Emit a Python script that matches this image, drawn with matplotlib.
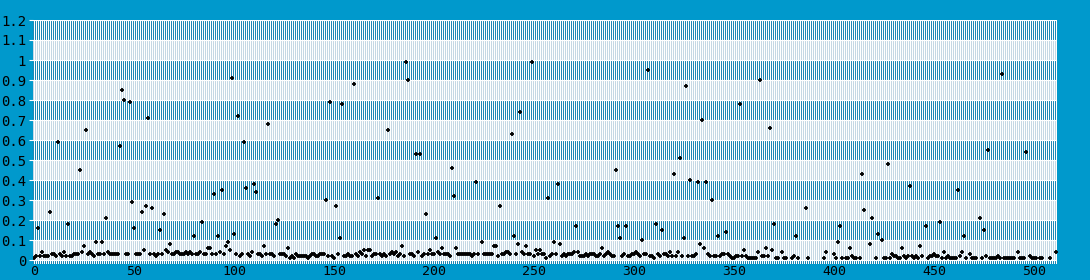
import numpy as np
import matplotlib.pyplot as plt
from matplotlib.ticker import FuncFormatter

nan = np.nan

# one value per sample (nan = no point drawn)
values = [
    0.01, 0.02, 0.16, 0.02, 0.04, 0.02, 0.02, 0.02, 0.24, 0.03, 0.03, 0.02, 0.59, 0.03, 0.02, 0.04,
    0.02, 0.18, 0.02, 0.02, 0.03, 0.03, 0.03, 0.45, 0.04, 0.07, 0.65, 0.03, 0.04, 0.03, 0.02, 0.09,
    0.03, 0.03, 0.09, 0.03, 0.21, 0.04, 0.03, 0.03, 0.03, 0.03, 0.03, 0.57, 0.85, 0.80, 0.03, 0.03,
    0.79, 0.29, 0.16, 0.03, 0.03, 0.03, 0.24, 0.05, 0.27, 0.71, 0.03, 0.26, 0.03, 0.02, 0.03, 0.15,
    0.03, 0.23, 0.05, 0.04, 0.08, 0.03, 0.03, 0.04, 0.04, 0.03, 0.03, 0.03, 0.04, 0.03, 0.04, 0.03,
    0.12, 0.03, 0.03, 0.04, 0.19, 0.03, 0.03, 0.06, 0.06, 0.03, 0.33, 0.03, 0.12, 0.04, 0.35, 0.03,
    0.07, 0.09, 0.05, 0.91, 0.13, 0.03, 0.72, 0.02, 0.03, 0.59, 0.36, 0.03, 0.02, 0.04, 0.38, 0.34,
    0.03, 0.03, 0.02, 0.07, 0.03, 0.68, 0.03, 0.03, 0.02, 0.18, 0.20, 0.03, 0.03, 0.03, 0.02, 0.06,
    0.01, 0.02, 0.01, 0.03, 0.02, 0.02, 0.02, 0.02, 0.02, 0.01, 0.02, 0.03, 0.03, 0.02, 0.02, 0.03,
    0.03, 0.03, 0.30, 0.02, 0.79, 0.02, 0.01, 0.27, 0.03, 0.11, 0.78, 0.02, 0.02, 0.03, 0.02, 0.02,
    0.88, 0.03, 0.02, 0.04, 0.03, 0.05, 0.02, 0.05, 0.05, 0.02, 0.03, 0.03, 0.31, 0.03, 0.02, 0.03,
    0.02, 0.65, 0.03, 0.04, 0.03, 0.04, 0.02, 0.03, 0.07, 0.02, 0.99, 0.90, 0.03, 0.03, 0.02, 0.53,
    0.04, 0.53, 0.02, 0.03, 0.23, 0.03, 0.05, 0.03, 0.03, 0.11, 0.04, 0.03, 0.06, 0.03, 0.03, 0.03,
    0.02, 0.46, 0.32, 0.06, 0.03, 0.03, 0.03, 0.03, 0.03, 0.03, 0.03, 0.02, 0.03, 0.39, 0.03, nan,
    0.09, 0.03, 0.03, 0.03, 0.03, 0.03, 0.07, 0.07, 0.02, 0.27, 0.03, 0.03, 0.04, 0.04, 0.03, 0.63,
    0.12, 0.03, 0.08, 0.74, 0.04, 0.03, 0.07, 0.03, 0.03, 0.99, 0.02, 0.05, 0.03, 0.05, 0.03, 0.03,
    0.01, 0.31, 0.02, 0.03, 0.09, 0.03, 0.38, 0.08, 0.02, 0.03, 0.02, 0.03, 0.03, 0.03, 0.04, 0.17,
    0.04, 0.02, 0.02, 0.02, 0.03, 0.02, 0.03, 0.03, 0.03, 0.02, 0.02, 0.03, 0.06, 0.02, 0.03, 0.04,
    0.03, 0.02, 0.02, 0.45, 0.17, 0.11, 0.02, 0.03, 0.17, 0.02, 0.02, 0.03, 0.03, 0.04, 0.03, 0.02,
    0.10, 0.03, 0.03, 0.95, 0.02, 0.02, 0.01, 0.18, 0.03, 0.02, 0.15, 0.03, 0.03, 0.02, 0.04, 0.02,
    0.43, 0.02, 0.04, 0.51, 0.02, 0.11, 0.87, 0.02, 0.40, 0.02, 0.02, 0.03, 0.39, 0.08, 0.70, 0.06,
    0.39, 0.03, 0.02, 0.30, 0.02, 0.02, 0.12, 0.02, 0.03, 0.03, 0.14, 0.03, 0.02, 0.01, 0.01, 0.02,
    0.02, 0.78, 0.02, 0.05, 0.02, 0.01, 0.01, 0.01, 0.01, 0.01, 0.04, 0.90, 0.02, 0.02, 0.06, 0.02,
    0.66, 0.05, 0.18, 0.01, 0.01, nan, 0.04, 0.01, 0.01, nan, nan, 0.01, 0.02, 0.12, 0.01, nan,
    nan, nan, 0.26, 0.01, nan, nan, nan, nan, nan, nan, nan, 0.01, 0.04, nan, nan, nan,
    0.03, 0.01, 0.09, 0.17, 0.01, nan, 0.01, 0.01, 0.06, 0.02, 0.01, 0.01, nan, 0.01, 0.43, 0.25,
    nan, nan, 0.08, 0.21, nan, 0.01, 0.13, nan, 0.10, 0.01, 0.01, 0.48, 0.01, 0.03, 0.02, 0.02,
    0.01, 0.01, 0.06, 0.02, 0.01, 0.02, 0.37, 0.02, 0.01, 0.02, 0.01, 0.07, 0.02, nan, 0.17, 0.01,
    0.02, 0.02, 0.03, 0.02, 0.02, 0.19, 0.01, 0.04, 0.01, 0.02, 0.01, 0.01, 0.01, 0.01, 0.35, 0.02,
    0.04, 0.12, 0.01, nan, 0.03, 0.01, 0.01, 0.01, nan, 0.21, 0.01, 0.15, 0.02, 0.55, 0.01, 0.01,
    0.01, 0.01, 0.02, 0.01, 0.93, 0.01, 0.01, 0.01, 0.01, 0.01, 0.01, nan, 0.04, 0.01, 0.01, 0.01,
    0.54, nan, 0.02, 0.01, 0.01, 0.01, nan, 0.01, 0.01, nan, nan, nan, 0.01, nan, nan, 0.04,
]

x_ticks = [0, 50, 100, 150, 200, 250, 300, 350, 400, 450, 500]
y_ticks = [0, 0.1, 0.2, 0.3, 0.4, 0.5, 0.6, 0.7, 0.8, 0.9, 1.0, 1.1, 1.2]

bg_blue = '#0099cc'
stripe_dark = np.array([30, 136, 180]) / 255.0
stripe_light = np.array([196, 216, 228]) / 255.0

y = np.array(values)
x = np.arange(len(y))

x0, x1 = -0.67, 511.33
y0, y1 = -0.02, 1.2

fig = plt.figure(figsize=(10.9, 2.8), dpi=100, facecolor=bg_blue)
ax = fig.add_axes([33 / 1090, 16 / 280, 1024 / 1090, 244 / 280])

# striped bands: one image pixel per screen pixel
rows, cols = 244, 1024
yc = y1 - (np.arange(rows) + 0.5) * (y1 - y0) / rows
dark = (np.floor(yc / 0.1).astype(int) % 2) == 1
img = np.ones((rows, cols, 3))
even = (np.arange(cols) % 2) == 0
for r in range(rows):
    img[r, even] = stripe_dark if dark[r] else stripe_light
ax.imshow(img, extent=(x0, x1, y0, y1), aspect='auto', interpolation='nearest', zorder=0)

ax.plot(x, y, linestyle='none', marker='+', ms=3.5, mew=1.3, color='black', zorder=3)

ax.set_xlim(x0, x1)
ax.set_ylim(y0, y1)
ax.set_xticks(x_ticks)
ax.set_yticks(y_ticks)
ax.yaxis.set_major_formatter(FuncFormatter(lambda v, p: '%g' % round(v, 1)))
ax.set_axisbelow(True)
ax.grid(axis='y', color='white', linewidth=0.8)
ax.grid(axis='x', visible=False)
for s in ax.spines.values():
    s.set_visible(False)

ax.tick_params(axis='y', direction='out', length=3, width=0.8, color='white', pad=2,
               labelcolor='black', labelsize=10)
ax.tick_params(axis='x', length=0, pad=0.5, labelcolor='black', labelsize=9.5)
for lab in ax.get_xticklabels() + ax.get_yticklabels():
    lab.set_fontfamily('DejaVu Sans Mono')

fig.savefig('out.png', dpi=100, facecolor=fig.get_facecolor())
